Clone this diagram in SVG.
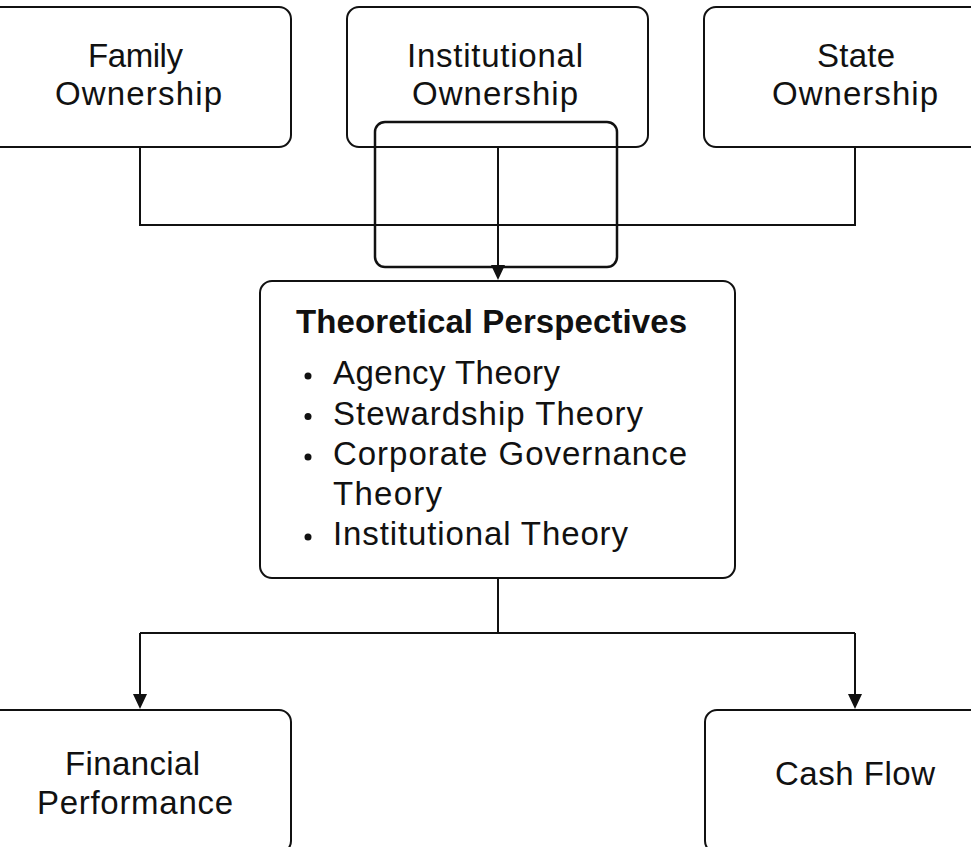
<svg xmlns="http://www.w3.org/2000/svg" width="971" height="847" viewBox="0 0 971 847">
<style>
.box{fill:#fff;stroke:#111;stroke-width:2}
.ln{fill:none;stroke:#111;stroke-width:2}
.ah{fill:#111}
.t{font-family:"Liberation Sans",Arial,sans-serif;font-size:33px;fill:#111}
.b{font-weight:bold}
.dot{fill:#111}
</style>
<rect width="971" height="847" fill="#fff"/>
<g id="connectors">
<path class="ln" d="M140 147 V225 H855 V147"/>
<path class="ln" d="M498 147 V266"/>
<path class="ah" d="M491 265 L505 265 L498 280 Z"/>
<path class="ln" d="M498 578 V633"/>
<path class="ln" d="M140 633 H855"/>
<path class="ln" d="M140 633 V695"/>
<path class="ah" d="M133 694 L147 694 L140 709 Z"/>
<path class="ln" d="M855 633 V695"/>
<path class="ah" d="M848 694 L862 694 L855 709 Z"/>
</g>
<g id="family">
<rect class="box" x="-20" y="7" width="311" height="140" rx="12"/>
<text class="t" x="88" y="67" textLength="95">Family</text>
<text class="t" x="55" y="105" textLength="167">Ownership</text>
</g>
<g id="institutional">
<rect class="box" x="347" y="7" width="301" height="140" rx="12" style="fill:none"/>
<text class="t" x="407" y="67" textLength="176">Institutional</text>
<text class="t" x="412" y="105" textLength="166">Ownership</text>
</g>
<g id="state">
<rect class="box" x="704" y="7" width="290" height="140" rx="12"/>
<text class="t" x="817" y="67" textLength="78">State</text>
<text class="t" x="772" y="105" textLength="166">Ownership</text>
</g>
<g id="overlay">
<rect x="375" y="122" width="242" height="145" rx="10" fill="none" stroke="#111" stroke-width="2.5"/>
</g>
<g id="theoretical">
<rect class="box" x="260" y="281" width="475" height="297" rx="12"/>
<text class="t b" x="296" y="333" textLength="391">Theoretical Perspectives</text>
<circle class="dot" cx="308" cy="376" r="3.5"/>
<text class="t" x="333" y="384" textLength="227">Agency Theory</text>
<circle class="dot" cx="308" cy="416.5" r="3.5"/>
<text class="t" x="333" y="424.5" textLength="310">Stewardship Theory</text>
<circle class="dot" cx="308" cy="457" r="3.5"/>
<text class="t" x="333" y="465" textLength="354">Corporate Governance</text>
<text class="t" x="333" y="505" textLength="109">Theory</text>
<circle class="dot" cx="308" cy="537" r="3.5"/>
<text class="t" x="333" y="545" textLength="295">Institutional Theory</text>
</g>
<g id="financial">
<rect class="box" x="-20" y="710" width="311" height="143" rx="12"/>
<text class="t" x="65" y="775" textLength="135">Financial</text>
<text class="t" x="37" y="814" textLength="196">Performance</text>
</g>
<g id="cashflow">
<rect class="box" x="705" y="710" width="290" height="143" rx="12"/>
<text class="t" x="775" y="785" textLength="160">Cash Flow</text>
</g>
</svg>
